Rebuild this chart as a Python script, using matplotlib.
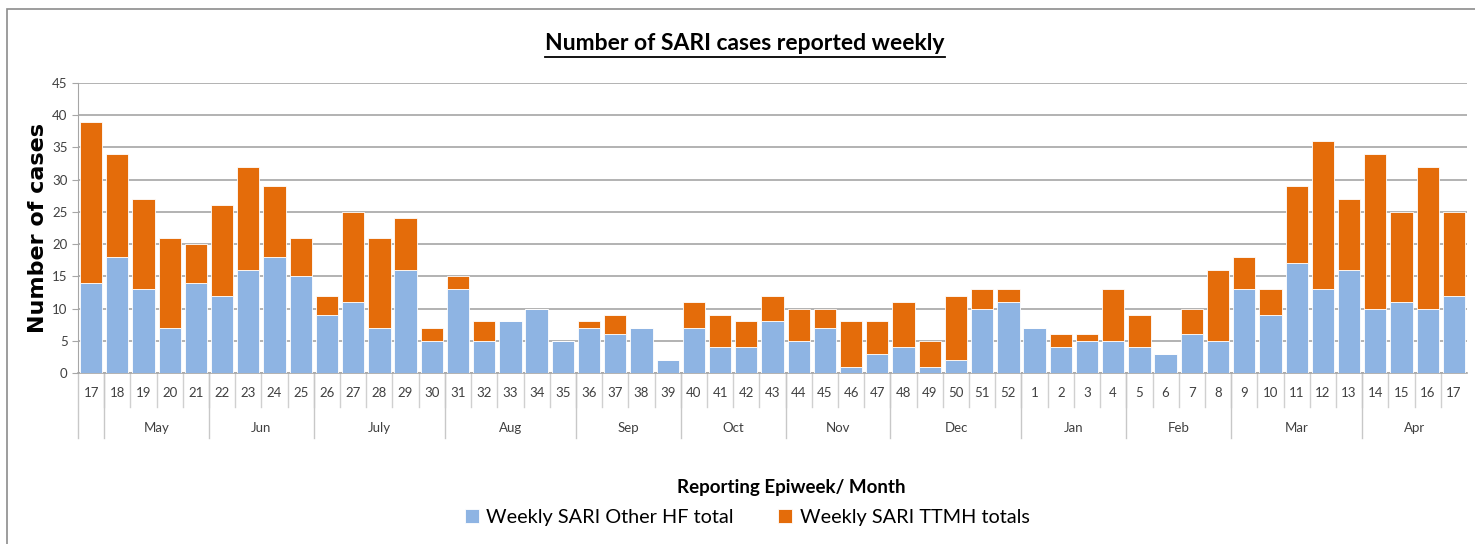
import matplotlib.pyplot as plt
from matplotlib.patches import Rectangle
from matplotlib.lines import Line2D

plt.rcParams['font.family'] = ['Lato', 'DejaVu Sans']

# epiweeks, Apr (wk 17) to Apr (wk 17) next year
weeks = [17, 18, 19, 20, 21, 22, 23, 24, 25, 26, 27, 28, 29, 30, 31, 32, 33, 34,
         35, 36, 37, 38, 39, 40, 41, 42, 43, 44, 45, 46, 47, 48, 49, 50, 51, 52,
         1, 2, 3, 4, 5, 6, 7, 8, 9, 10, 11, 12, 13, 14, 15, 16, 17]
other_hf = [14, 18, 13, 7, 14, 12, 16, 18, 15, 9, 11, 7, 16, 5, 13, 5, 8, 10,
            5, 7, 6, 7, 2, 7, 4, 4, 8, 5, 7, 1, 3, 4, 1, 2, 10, 11,
            7, 4, 5, 5, 4, 3, 6, 5, 13, 9, 17, 13, 16, 10, 11, 10, 12]
ttmh = [25, 16, 14, 14, 6, 14, 16, 11, 6, 3, 14, 14, 8, 2, 2, 3, 0, 0,
        0, 1, 3, 0, 0, 4, 5, 4, 4, 5, 3, 7, 5, 7, 4, 10, 3, 2,
        0, 2, 1, 8, 5, 0, 4, 11, 5, 4, 12, 23, 11, 24, 14, 22, 13]
# month groups: (label, number of weeks)
months = [('', 1), ('May', 4), ('Jun', 4), ('July', 5), ('Aug', 5), ('Sep', 4),
          ('Oct', 4), ('Nov', 4), ('Dec', 5), ('Jan', 4), ('Feb', 4),
          ('Mar', 5), ('Apr', 4)]

blue = '#8EB4E3'
orange = '#E46C0A'
grid_c = '#a6a6a6'
tick_c = '#404040'

fig = plt.figure(figsize=(14.75, 5.44), dpi=100)
ax = fig.add_axes([78 / 1475, 1 - 373 / 544, (1467 - 78) / 1475, 290 / 544])

x = list(range(len(weeks)))
ax.bar(x, other_hf, width=0.85, color=blue, edgecolor='white', linewidth=0.6,
       label='Weekly SARI Other HF total', zorder=3)
ax.bar(x, ttmh, width=0.85, bottom=other_hf, color=orange, edgecolor='white',
       linewidth=0.6, label='Weekly SARI TTMH totals', zorder=3)

ax.set_xlim(-0.5, len(weeks) - 0.5)
ax.set_ylim(0, 45)
ax.set_yticks(range(0, 46, 5))
ax.yaxis.grid(True, color=grid_c, linewidth=1.2, zorder=0)
ax.tick_params(axis='y', length=4, color=grid_c, labelsize=9.5, labelcolor=tick_c)
ax.set_xticks([])
for s in ['top', 'right']:
    ax.spines[s].set_visible(False)
ax.spines['left'].set_color(grid_c)
ax.spines['bottom'].set_color(grid_c)
ax.spines['bottom'].set_linewidth(1.2)

# two-level category axis
tr = ax.get_xaxis_transform()
for i, w in enumerate(weeks):
    ax.text(i, -0.069, str(w), transform=tr, ha='center', va='center',
            fontsize=9.5, color=tick_c)
    if i > 0:
        ax.plot([i - 0.5, i - 0.5], [0, -0.117], transform=tr, color='#d0d0d0',
                linewidth=1, clip_on=False)
start = 0
for name, n in months:
    ax.plot([start - 0.5, start - 0.5], [0, -0.224], transform=tr,
            color='#c8c8c8', linewidth=1, clip_on=False)
    if name:
        ax.text(start + (n - 1) / 2, -0.19, name, transform=tr, ha='center',
                va='center', fontsize=9.5, color=tick_c)
    start += n

ax.set_ylabel('Number of cases', fontsize=16, fontweight='bold',
              family=['DejaVu Sans'])
ax.yaxis.set_label_coords(-30 / 1389, 0.5)

title = fig.text(745 / 1475, 1 - 44 / 544, 'Number of SARI cases reported weekly',
                 ha='center', va='center', fontsize=16.5, fontweight='bold')
fig.text(791 / 1475, 1 - 488 / 544, 'Reporting Epiweek/ Month', ha='center',
         va='center', fontsize=13.5, fontweight='bold')

fig.legend(loc='center', bbox_to_anchor=(747 / 1475, 1 - 517 / 544), ncol=2,
           frameon=False, fontsize=14.3, handlelength=0.7, handleheight=0.7,
           handletextpad=0.4, columnspacing=2.2)

# underline the title
fig.canvas.draw()
bb = title.get_window_extent().transformed(fig.transFigure.inverted())
fig.add_artist(Line2D([bb.x0, bb.x1], [bb.y0 - 0.004, bb.y0 - 0.004],
                      transform=fig.transFigure, color='black', linewidth=1.3))

# outer frame of the chart area
fig.add_artist(Rectangle((7 / 1475, -0.05), 1.1, 1 - 9 / 544 + 0.05,
                         transform=fig.transFigure, fill=False,
                         edgecolor='#8c8c8c', linewidth=1.2))

fig.savefig('out.png', dpi=100)
